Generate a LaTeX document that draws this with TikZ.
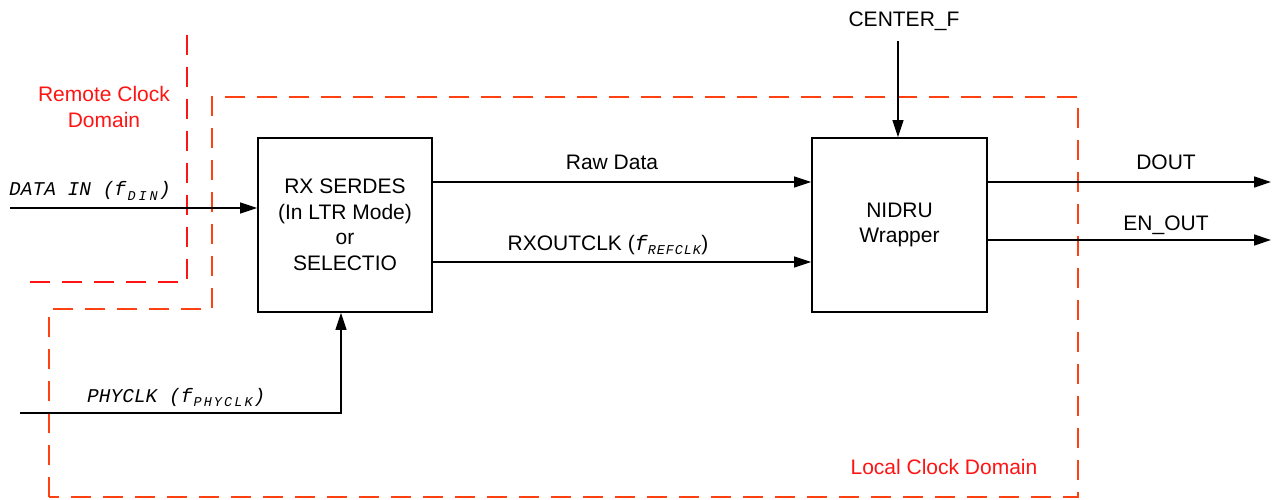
\documentclass[tikz,border=0pt]{standalone}
\usepackage{fontspec}
\setmainfont{Liberation Sans}
\newfontfamily\monofam{Liberation Mono}
\usetikzlibrary{arrows.meta}
\definecolor{remred}{RGB}{255,20,20}
\definecolor{locred}{RGB}{255,64,16}
\newlength\subw
\newcommand\subc[1]{\makebox[\subw][c]{#1}}
\newcommand\msub[2]{\raisebox{-4.5pt}{\fontsize{13.5}{13.5}\selectfont\monofam\itshape\setlength\subw{#1}#2}}
\begin{document}
\begin{tikzpicture}[x=1pt,y=-1pt,
  every node/.style={font=\fontsize{21}{25.5}\selectfont, inner sep=0pt},
  blockbox/.style={draw, line width=1.8pt, minimum width=174pt, minimum height=174pt, align=center},
  arr/.style={line width=1.3pt, -{Triangle[length=17pt,width=11pt]}},
  remdash/.style={draw=remred, line width=2.8pt, dash pattern=on 20pt off 12pt},
  locdash/.style={draw=locred, line width=2.8pt, dash pattern=on 20pt off 12pt},
  monolab/.style={font=\fontsize{19.5}{22}\selectfont\monofam\itshape}
]
\useasboundingbox (0,0) rectangle (1280,500);

% clock domains
\draw[remdash] (187,35) -- (187,282) -- (30,282);
\draw[locdash] (49,497) -- (49,309) -- (212,309) -- (212,97) -- (1078,97) -- (1078,497) -- cycle;
\node[text=remred, align=center] (remlab) at (104,107) {Remote Clock\\Domain};
\node[text=remred, anchor=base] (loclab) at (944,474) {Local Clock Domain};

% blocks
\node[blockbox] (serdes) at (345,225) {RX SERDES\\(In LTR Mode)\\or\\SELECTIO};
\node[blockbox, minimum width=175pt] (nidru) at (899.5,225) {NIDRU\\Wrapper};

% inputs
\coordinate (din) at (10,208);
\coordinate (phy) at (20,413);
\node[anchor=base] (cflab) at (904,27) {CENTER\_F};
\coordinate (cf) at (898,41);
\draw[arr] (din) -- ([yshift=17pt]serdes.west);
\node[monolab, anchor=base west] (dinlab) at (9,196) {DATA IN (f\msub{11pt}{\subc{D}\subc{I}\subc{N}})};
\draw[arr] (phy) -| ([xshift=-4pt]serdes.south);
\node[monolab, anchor=base west] (phylab) at (87,402) {PHYCLK (f\msub{10.2pt}{\subc{P}\subc{H}\subc{Y}\subc{C}\subc{L}\subc{K}})};
\draw[arr] (cf) -- (cf |- nidru.north);

% internal connections
\draw[arr] ([yshift=43pt]serdes.east) -- ([yshift=43pt]nidru.west);
\node[anchor=base] (rawlab) at (612,170) {Raw Data};
\draw[arr] ([yshift=-37pt]serdes.east) -- ([yshift=-37pt]nidru.west);
\node[anchor=base] (rxlab) at (608,250) {RXOUTCLK ({\monofam\itshape f}\msub{9pt}{\subc{R}\subc{E}\subc{F}\subc{C}\subc{L}\subc{K}})};

% outputs
\coordinate (dout) at (1271,182);
\coordinate (enout) at (1271,240);
\draw[arr] (nidru.east |- dout) -- (dout);
\node[anchor=base] (doutlab) at (1166,170) {DOUT};
\draw[arr] (nidru.east |- enout) -- (enout);
\node[anchor=base] (enlab) at (1166,230) {EN\_OUT};
\end{tikzpicture}
\end{document}
